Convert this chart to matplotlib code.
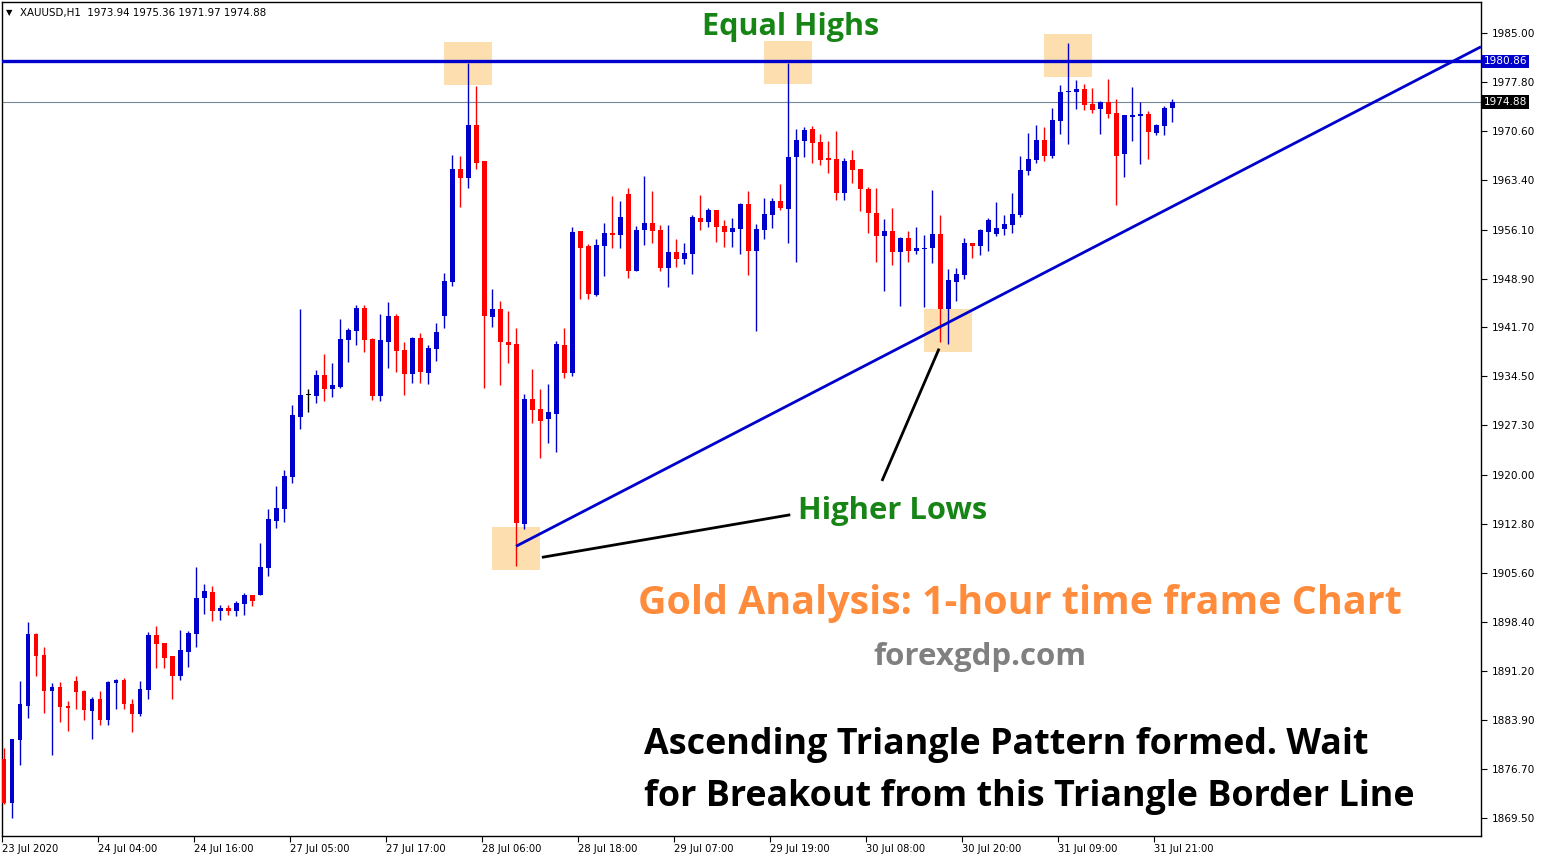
"""XAUUSD H1 chart: ascending triangle with equal highs and higher lows."""

import matplotlib
matplotlib.use("Agg")
import matplotlib.pyplot as plt
import matplotlib.transforms as mtransforms
from matplotlib.patches import Rectangle
import numpy as np

# hourly candles (open, high, low, close)
opens = [
    1878.19, 1871.76, 1881.04, 1886.05, 1896.60, 1893.51, 1888.26, 1888.80, 1886.00, 1889.68,
    1888.21, 1885.31, 1887.03, 1883.98, 1889.43, 1889.83, 1886.29, 1884.87, 1888.40, 1896.46,
    1895.28, 1893.36, 1890.47, 1894.00, 1896.65, 1901.81, 1902.79, 1900.00, 1900.43, 1900.00,
    1901.02, 1902.35, 1902.35, 1906.33, 1913.25, 1915.02, 1919.73, 1928.57, 1931.81, 1931.67,
    1934.76, 1932.70, 1932.99, 1939.92, 1941.24, 1944.63, 1940.06, 1931.67, 1939.58, 1943.35,
    1938.34, 1934.83, 1940.10, 1934.99, 1938.55, 1943.35, 1948.40, 1964.97, 1963.68, 1971.57,
    1966.15, 1943.24, 1944.38, 1939.53, 1939.22, 1912.80, 1931.22, 1929.67, 1928.23, 1928.90,
    1939.10, 1935.00, 1955.90, 1953.69, 1946.53, 1953.74, 1955.61, 1955.36, 1961.35, 1950.06,
    1956.05, 1957.08, 1956.05, 1950.50, 1952.81, 1951.83, 1952.56, 1957.81, 1957.27, 1958.99,
    1956.64, 1955.80, 1956.24, 1959.92, 1953.00, 1956.10, 1958.31, 1960.32, 1959.19, 1966.84,
    1969.20, 1970.91, 1969.00, 1966.65, 1966.50, 1961.54, 1966.35, 1965.03, 1962.08, 1958.55,
    1955.22, 1955.90, 1952.86, 1954.87, 1953.01, 1953.20, 1953.45, 1955.46, 1944.47, 1948.40,
    1949.43, 1954.14, 1953.70, 1955.76, 1955.47, 1956.20, 1956.79, 1958.26, 1964.74, 1966.36,
    1969.30, 1966.95, 1972.10, 1976.30, 1976.36, 1976.81, 1974.60, 1973.86, 1974.89, 1973.27,
    1967.24, 1972.68, 1972.83, 1973.13, 1970.33, 1971.36, 1973.94,
]
highs = [
    1879.76, 1881.14, 1889.68, 1898.37, 1896.75, 1894.69, 1889.39, 1889.53, 1886.73, 1890.42,
    1888.35, 1887.32, 1888.21, 1889.68, 1889.98, 1890.12, 1887.03, 1889.68, 1896.90, 1897.78,
    1895.28, 1893.36, 1897.19, 1897.05, 1906.48, 1903.97, 1903.67, 1900.88, 1900.88, 1901.46,
    1902.64, 1902.35, 1910.01, 1915.02, 1918.41, 1920.76, 1930.34, 1944.48, 1932.70, 1935.50,
    1937.86, 1936.53, 1943.01, 1941.69, 1945.07, 1945.07, 1940.21, 1943.71, 1945.51, 1943.71,
    1939.63, 1940.25, 1940.92, 1939.06, 1942.31, 1949.69, 1967.13, 1966.98, 1980.65, 1977.30,
    1966.15, 1947.42, 1945.67, 1944.07, 1941.69, 1931.84, 1935.66, 1932.61, 1933.39, 1939.68,
    1941.62, 1956.49, 1955.90, 1953.99, 1954.72, 1957.08, 1961.05, 1960.32, 1962.23, 1956.64,
    1964.00, 1961.79, 1956.78, 1956.78, 1954.72, 1954.13, 1958.26, 1961.20, 1959.29, 1958.99,
    1957.52, 1957.81, 1960.07, 1961.79, 1956.93, 1960.76, 1960.76, 1962.82, 1980.68, 1970.91,
    1971.21, 1971.36, 1970.18, 1969.15, 1970.62, 1966.65, 1967.82, 1965.03, 1962.38, 1962.23,
    1957.67, 1959.29, 1955.02, 1955.90, 1956.49, 1955.31, 1961.94, 1958.26, 1950.31, 1950.46,
    1954.88, 1954.14, 1956.20, 1957.82, 1960.17, 1958.26, 1961.50, 1966.95, 1970.33, 1971.51,
    1971.21, 1974.01, 1977.39, 1983.58, 1978.13, 1977.54, 1976.95, 1975.04, 1978.28, 1975.33,
    1972.98, 1977.10, 1974.89, 1973.57, 1971.66, 1974.30, 1975.36,
]
lows = [
    1871.61, 1869.55, 1877.35, 1884.28, 1890.42, 1885.02, 1878.83, 1883.69, 1882.36, 1885.60,
    1883.98, 1881.18, 1883.25, 1883.25, 1885.60, 1885.60, 1882.22, 1884.57, 1887.08, 1891.65,
    1891.65, 1887.08, 1889.88, 1891.79, 1894.74, 1899.60, 1898.52, 1898.67, 1899.40, 1899.25,
    1899.40, 1900.73, 1902.35, 1905.15, 1912.22, 1913.10, 1918.85, 1926.81, 1929.31, 1930.64,
    1930.93, 1931.52, 1932.85, 1936.68, 1939.18, 1938.15, 1931.08, 1930.86, 1935.71, 1935.19,
    1931.74, 1933.54, 1933.54, 1933.39, 1936.74, 1941.59, 1947.78, 1959.39, 1962.23, 1965.02,
    1932.77, 1941.75, 1933.18, 1936.48, 1906.61, 1912.03, 1927.71, 1922.45, 1924.77, 1923.38,
    1934.20, 1934.60, 1945.94, 1945.94, 1946.38, 1949.33, 1953.45, 1953.45, 1949.03, 1950.06,
    1953.89, 1954.18, 1950.06, 1947.71, 1950.65, 1951.09, 1949.62, 1956.10, 1956.54, 1954.33,
    1953.59, 1953.59, 1952.56, 1949.47, 1941.23, 1954.77, 1956.39, 1959.04, 1954.18, 1951.39,
    1966.84, 1965.96, 1965.66, 1964.49, 1960.51, 1960.51, 1963.02, 1958.89, 1955.66, 1951.39,
    1947.12, 1950.95, 1944.91, 1951.39, 1952.57, 1944.76, 1951.24, 1939.61, 1939.32, 1945.60,
    1948.84, 1951.93, 1952.37, 1952.96, 1955.17, 1955.32, 1955.61, 1957.97, 1964.15, 1965.91,
    1966.21, 1966.65, 1970.18, 1968.71, 1973.86, 1973.72, 1973.27, 1970.18, 1972.54, 1959.73,
    1963.85, 1969.15, 1965.77, 1966.50, 1970.04, 1970.04, 1971.97,
]
closes = [
    1871.76, 1881.14, 1886.29, 1896.60, 1893.41, 1888.26, 1888.80, 1885.90, 1885.75, 1888.11,
    1885.46, 1887.03, 1883.98, 1889.53, 1889.83, 1886.34, 1884.87, 1888.50, 1896.46, 1895.18,
    1893.12, 1890.47, 1894.25, 1896.75, 1901.91, 1902.94, 1900.00, 1900.43, 1900.00, 1901.17,
    1902.35, 1901.46, 1906.47, 1913.55, 1915.17, 1919.88, 1928.87, 1931.81, 1931.81, 1934.76,
    1932.70, 1933.29, 1940.06, 1941.39, 1944.63, 1939.92, 1931.67, 1939.79, 1943.35, 1938.29,
    1934.83, 1940.10, 1935.09, 1938.75, 1940.97, 1948.61, 1964.97, 1963.68, 1971.57, 1965.90,
    1943.40, 1944.38, 1939.58, 1939.11, 1912.90, 1931.12, 1929.57, 1927.92, 1929.21, 1939.22,
    1935.00, 1955.75, 1953.45, 1946.68, 1953.84, 1955.61, 1955.36, 1957.96, 1950.06, 1956.05,
    1957.08, 1955.95, 1950.50, 1952.81, 1951.83, 1952.66, 1957.96, 1957.27, 1958.99, 1956.54,
    1955.80, 1956.34, 1959.92, 1953.00, 1956.19, 1958.40, 1960.32, 1959.34, 1966.79, 1969.30,
    1970.77, 1968.90, 1966.40, 1966.40, 1961.54, 1966.20, 1964.93, 1962.13, 1958.60, 1955.22,
    1955.90, 1952.86, 1954.87, 1953.01, 1953.40, 1953.25, 1955.46, 1944.47, 1948.69, 1949.58,
    1954.14, 1953.70, 1956.05, 1957.52, 1956.35, 1956.94, 1958.41, 1964.88, 1966.50, 1969.30,
    1966.95, 1972.24, 1976.36, 1976.36, 1976.81, 1974.45, 1973.72, 1974.89, 1973.13, 1966.95,
    1972.98, 1972.98, 1973.13, 1970.48, 1971.51, 1974.01, 1974.88,
]

date_labels = [
    "23 Jul 2020", "24 Jul 04:00", "24 Jul 16:00", "27 Jul 05:00", "27 Jul 17:00",
    "28 Jul 06:00", "28 Jul 18:00", "29 Jul 07:00", "29 Jul 19:00", "30 Jul 08:00",
    "30 Jul 20:00", "31 Jul 09:00", "31 Jul 21:00",
]
date_every = 12

price_ticks = [1985.00, 1977.80, 1970.60, 1963.40, 1956.10, 1948.90, 1941.70, 1934.50,
               1927.30, 1920.00, 1912.80, 1905.60, 1898.40, 1891.20, 1883.90, 1876.70, 1869.50]

resistance = 1980.86
last_price = 1974.88
# rising support: bar index / price of two points on the line
trend_a = (64, 1909.5)
trend_b = (147, 1960.1)
# highlighted swing points: bar index, price at box centre
highlights = [(58, 1980.6), (98, 1980.7), (133, 1981.7), (64, 1909.2), (118, 1941.2)]

BULL = "#0000CD"
BEAR = "#FF0000"
W, H = 1545, 860


def px(x, y):
    return x / W, 1 - y / H


fig = plt.figure(figsize=(W / 100, H / 100), dpi=100)
ax = fig.add_axes([2 / W, 24 / H, (1481 - 2) / W, (836 - 2) / H])
ax.set_xlim(-0.25, 184.6)
ax.set_ylim(1866.85, 1989.61)

o = np.array(opens)
h = np.array(highs)
l = np.array(lows)
c = np.array(closes)
idx = np.arange(len(o))
colors = np.where(c > o, BULL, np.where(c < o, BEAR, "#000000"))

# highlight boxes behind everything
for bar_i, price in highlights:
    ax.add_patch(Rectangle((bar_i - 3, price - 3.15), 6, 6.3, facecolor="#FDDFAF",
                           edgecolor="none", zorder=1))

ax.vlines(idx, l, h, colors=colors, linewidth=1.0, zorder=3)
body_lo = np.minimum(o, c)
body_h = np.maximum(np.abs(c - o), 0.15)
ax.bar(idx, body_h, bottom=body_lo, width=0.62, color=colors, linewidth=0, zorder=4)

ax.axhline(resistance, color=BULL, linewidth=2.4, zorder=5)
ax.axhline(last_price, color="#778899", linewidth=0.8, zorder=2)

slope = (trend_b[1] - trend_a[1]) / (trend_b[0] - trend_a[0])
tx = np.array([trend_a[0], 184.6])
ax.plot(tx, trend_a[1] + slope * (tx - trend_a[0]), color=BULL, linewidth=2.0, zorder=5,
        solid_capstyle="butt")

# pointer lines to the higher lows
ax.plot([67.4, 98.1], [1907.9, 1914.1], color="black", linewidth=2.0, zorder=6)
ax.plot([109.8, 116.8], [1919.3, 1938.4], color="black", linewidth=2.0, zorder=6)

ax.set_xticks(np.arange(len(date_labels)) * date_every - 0.25)
ax.set_xticklabels(date_labels, ha="left", fontsize=7.2, family="DejaVu Sans")
ax.set_yticks(price_ticks)
ax.set_yticklabels([f"{p:.2f}" for p in price_ticks], fontsize=7.6, family="DejaVu Sans")
ax.yaxis.tick_right()
ax.tick_params(axis="y", direction="out", length=4, width=0.8, pad=4)
ax.tick_params(axis="x", direction="out", length=4, width=0.8, pad=2)
for s in ax.spines.values():
    s.set_linewidth(1.0)

trans = mtransforms.blended_transform_factory(ax.transAxes, ax.transData)
for price, fc in [(resistance, BULL), (last_price, "black")]:
    ax.text(1.0018, price, f"{price:.2f}", transform=trans, fontsize=7.6, color="white",
            family="DejaVu Sans", va="center", ha="left", zorder=10,
            bbox=dict(boxstyle="square,pad=0.18", fc=fc, ec="none"))

fig.text(*px(6, 13), "\u25BC", fontsize=6, va="center", ha="left")
fig.text(*px(20, 13), "XAUUSD,H1  1973.94 1975.36 1971.97 1974.88", fontsize=7.4,
         family="DejaVu Sans", va="center", ha="left")

bold = dict(family="Open Sans", fontweight="bold")
fig.text(*px(791, 35), "Equal Highs", color="#168516", fontsize=22, ha="center",
         va="baseline", **bold)
fig.text(*px(798, 519), "Higher Lows", color="#168516", fontsize=22.3, ha="left",
         va="baseline", **bold)
fig.text(*px(638, 614), "Gold Analysis: 1-hour time frame Chart", color="#FF8C3C",
         fontsize=28.4, ha="left", va="baseline", **bold)
fig.text(*px(873, 665), "forexgdp.com", color="#808080", fontsize=22.5, ha="left",
         va="baseline", **bold)
fig.text(*px(644, 754), "Ascending Triangle Pattern formed. Wait", color="black",
         fontsize=25.8, ha="left", va="baseline", **bold)
fig.text(*px(644, 806), "for Breakout from this Triangle Border Line", color="black",
         fontsize=25.8, ha="left", va="baseline", **bold)

fig.savefig("out.png", dpi=100, facecolor="white")
